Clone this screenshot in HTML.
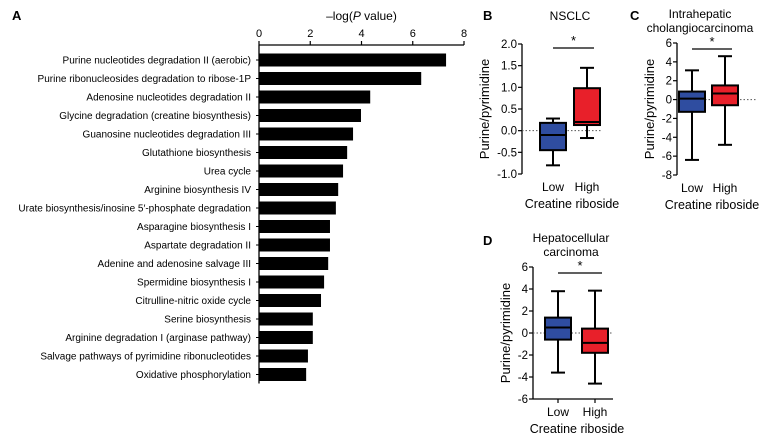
<!DOCTYPE html>
<html><head><meta charset="utf-8"><style>
body{margin:0;background:#fff;}
svg{display:block;font-family:"Liberation Sans",Arial,sans-serif;}
</style></head><body>
<svg id="fig" width="764" height="437" viewBox="0 0 764 437">
<g id="panelA"></g>
<g id="panelB"></g>
<g id="panelC"></g>
<g id="panelD"></g>
</svg>
<script>
const pathways=["Purine nucleotides degradation II (aerobic)","Purine ribonucleosides degradation to ribose-1P","Adenosine nucleotides degradation II","Glycine degradation (creatine biosynthesis)","Guanosine nucleotides degradation III","Glutathione biosynthesis","Urea cycle","Arginine biosynthesis IV","Urate biosynthesis/inosine 5′-phosphate degradation","Asparagine biosynthesis I","Aspartate degradation II","Adenine and adenosine salvage III","Spermidine biosynthesis I","Citrulline-nitric oxide cycle","Serine biosynthesis","Arginine degradation I (arginase pathway)","Salvage pathways of pyrimidine ribonucleotides","Oxidative phosphorylation"];
const logP=[7.3,6.33,4.34,3.98,3.67,3.44,3.28,3.09,3.0,2.77,2.77,2.7,2.54,2.42,2.1,2.1,1.91,1.84];
const xTicksA=[0,2,4,6,8];
const groups=["Low","High"];
const nsclcStats=[[-0.8,-0.45,-0.1,0.18,0.28],[-0.17,0.13,0.2,0.98,1.45]];
const nsclcTicks=[-1.0,-0.5,0.0,0.5,1.0,1.5,2.0];
const iccStats=[[-6.4,-1.3,0.1,0.85,3.1],[-4.8,-0.6,0.65,1.5,4.6]];
const iccTicks=[-8,-6,-4,-2,0,2,4,6];
const hccStats=[[-3.6,-0.6,0.5,1.4,3.8],[-4.6,-1.8,-0.9,0.4,3.85]];
const hccTicks=[-6,-4,-2,0,2,4,6];
const NS="http://www.w3.org/2000/svg";
function mk(parent,tag,attrs,text){const e=document.createElementNS(NS,tag);for(const k in attrs)e.setAttribute(k,attrs[k]);if(text!==undefined)e.textContent=text;parent.appendChild(e);return e;}

// Panel A
(function(){
const g=document.getElementById('panelA');
const x0=259,x1=464,xMax=8,axY=45;
const xs=v=>x0+(v/xMax)*(x1-x0);
const yc=i=>60+i*18.5;
let t=mk(g,'text',{x:12,y:20,'font-size':13,'font-weight':'bold'},'A');

t=mk(g,'text',{x:xs(4),y:20,'font-size':12,'text-anchor':'middle'});
t.innerHTML='–log(<tspan font-style="italic">P</tspan> value)';

let l=mk(g,'line',{x1:x0,x2:x1,y1:axY,y2:axY,stroke:'#000','stroke-width':1.3});

l=mk(g,'line',{x1:x0,x2:x0,y1:axY,y2:yc(17)+9,stroke:'#000','stroke-width':1.3});

xTicksA.forEach(v=>{
 mk(g,'line',{x1:xs(v),x2:xs(v),y1:axY-4,y2:axY,stroke:'#000','stroke-width':1.2});
 const tt=mk(g,'text',{x:xs(v),y:axY-8,'font-size':11,'text-anchor':'middle'},String(v));
 
});
pathways.forEach((p,i)=>{
 const r=mk(g,'rect',{x:x0,y:yc(i)-6.5,width:xs(logP[i])-x0,height:13,fill:'#000'});
 
 mk(g,'line',{x1:x0-3,x2:x0,y1:yc(i),y2:yc(i),stroke:'#000','stroke-width':1});
 const tt=mk(g,'text',{x:251,y:yc(i)+3.5,'font-size':10,'text-anchor':'end'},p);
 
});
})();

function boxPanel(id,o){
const g=document.getElementById(id);
const ys=v=>o.y0-(v-o.vmin)/(o.vmax-o.vmin)*(o.y0-o.y1);
let t=mk(g,'text',{x:o.lx,y:o.ly,'font-size':13,'font-weight':'bold'},o.letter);

o.title.forEach((s,i)=>{const tt=mk(g,'text',{x:o.tx,y:o.ty+i*14,'font-size':12,'text-anchor':'middle'},s);
 });
let l=mk(g,'line',{x1:o.ax,x2:o.ax,y1:ys(o.vmax),y2:ys(o.vmin),stroke:'#000','stroke-width':1.3});

if(o.xAxis){
l=mk(g,'line',{x1:o.ax,x2:o.ax+o.axW,y1:ys(o.vmin),y2:ys(o.vmin),stroke:'#000','stroke-width':1.3});

}
o.ticks.forEach(v=>{
 mk(g,'line',{x1:o.ax-4,x2:o.ax,y1:ys(v),y2:ys(v),stroke:'#000','stroke-width':1.2});
 const tt=mk(g,'text',{x:o.ax-5,y:ys(v)+4,'font-size':11.5,'text-anchor':'end'},o.fmt(v));
 
});
l=mk(g,'line',{x1:o.ax,x2:o.ax+o.axW,y1:ys(0),y2:ys(0),stroke:'#555','stroke-width':1,'stroke-dasharray':'1.5,2'});

const cols=['#2f4da0','#e8202a'];
o.stats.forEach((s,i)=>{
 const cx=o.cx[i],w=26;
 mk(g,'line',{x1:cx,x2:cx,y1:ys(s[0]),y2:ys(s[4]),stroke:'#000','stroke-width':2});
 mk(g,'line',{x1:cx-7,x2:cx+7,y1:ys(s[0]),y2:ys(s[0]),stroke:'#000','stroke-width':2});
 mk(g,'line',{x1:cx-7,x2:cx+7,y1:ys(s[4]),y2:ys(s[4]),stroke:'#000','stroke-width':2});
 const r=mk(g,'rect',{x:cx-w/2,y:ys(s[3]),width:w,height:ys(s[1])-ys(s[3]),fill:cols[i],stroke:'#000','stroke-width':2});
 
 mk(g,'line',{x1:cx-w/2,x2:cx+w/2,y1:ys(s[2]),y2:ys(s[2]),stroke:'#000','stroke-width':2});
 if(o.xAxis) mk(g,'line',{x1:cx,x2:cx,y1:ys(o.vmin),y2:ys(o.vmin)+4,stroke:'#000','stroke-width':1.2});
 const tt=mk(g,'text',{x:cx,y:ys(o.vmin)+17,'font-size':12,'text-anchor':'middle'},groups[i]);
 
});
l=mk(g,'line',{x1:o.cx[0],x2:o.cx[1]+7,y1:o.sigY,y2:o.sigY,stroke:'#000','stroke-width':1.3});

t=mk(g,'text',{x:(o.cx[0]+o.cx[1]+7)/2,y:o.sigY-3,'font-size':13,'text-anchor':'middle'},'*');

t=mk(g,'text',{x:o.xtx,y:ys(o.vmin)+34,'font-size':12.5,'text-anchor':'middle'},'Creatine riboside');

const ym=(ys(o.vmax)+ys(o.vmin))/2;
t=mk(g,'text',{x:0,y:0,'font-size':13,'text-anchor':'middle',transform:`translate(${o.ax-o.ytOff},${ym}) rotate(-90)`},'Purine/pyrimidine');

}
boxPanel('panelB',{letter:'B',lx:483,ly:20,title:['NSCLC'],tx:570,ty:20,ax:522,axW:80,y0:174,y1:44,vmin:-1,vmax:2,ticks:nsclcTicks,fmt:v=>v.toFixed(1),stats:nsclcStats,cx:[553,587],sigY:48,ytOff:33,xAxis:false,xtx:572});
boxPanel('panelC',{letter:'C',lx:630,ly:20,title:['Intrahepatic','cholangiocarcinoma'],tx:700,ty:18,ax:677,axW:80,y0:175,y1:43,vmin:-8,vmax:6,ticks:iccTicks,fmt:v=>String(v),stats:iccStats,cx:[692,725],sigY:49,ytOff:23,xAxis:false,xtx:712});
boxPanel('panelD',{letter:'D',lx:483,ly:245,title:['Hepatocellular','carcinoma'],tx:571,ty:242,ax:533,axW:80,y0:399,y1:267,vmin:-6,vmax:6,ticks:hccTicks,fmt:v=>String(v),stats:hccStats,cx:[558,595],sigY:273,ytOff:23,xAxis:true,xtx:577});
</script>
</body></html>
